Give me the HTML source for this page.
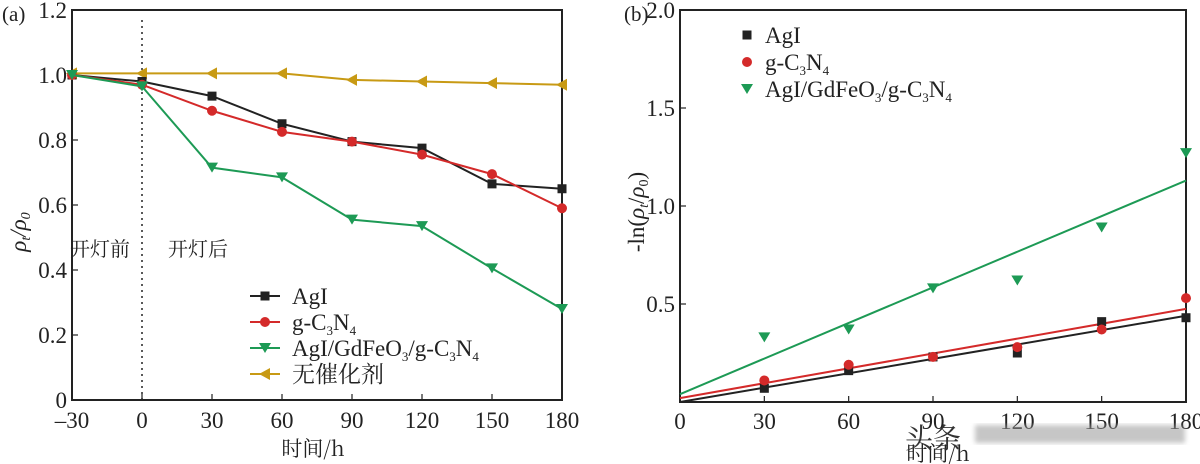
<!DOCTYPE html>
<html><head><meta charset="utf-8">
<style>
html,body{margin:0;padding:0;background:#fff;}
svg{display:block;font-family:"Liberation Serif","Noto Serif CJK SC",serif;}
</style></head>
<body>
<svg id="chart" width="1200" height="464" viewBox="0 0 1200 464" xmlns="http://www.w3.org/2000/svg">
<defs>
<filter id="blur"><feGaussianBlur stdDeviation="2.5"/></filter>
</defs>
<g id="pa"></g>
<g id="pb"></g>
</svg>
<script>
const timesA = [-30, 0, 30, 60, 90, 120, 150, 180];
const agiA = [1.0, 0.98, 0.935, 0.85, 0.795, 0.775, 0.665, 0.65];
const gcnA = [1.0, 0.97, 0.89, 0.825, 0.795, 0.755, 0.695, 0.59];
const compA = [1.0, 0.965, 0.715, 0.685, 0.555, 0.535, 0.405, 0.28];
const noneA = [1.005, 1.005, 1.005, 1.005, 0.985, 0.98, 0.975, 0.97];
const xTicksA = [-30, 0, 30, 60, 90, 120, 150, 180];
const yTicksA = [0, 0.2, 0.4, 0.6, 0.8, 1.0, 1.2];

const timesB = [30, 60, 90, 120, 150, 180];
const agiB = [0.07, 0.16, 0.23, 0.25, 0.41, 0.43];
const gcnB = [0.11, 0.19, 0.23, 0.28, 0.37, 0.53];
const compB = [0.33, 0.37, 0.58, 0.62, 0.89, 1.27];
const fitAgi = [0.0, 0.44];
const fitGcn = [0.02, 0.475];
const fitComp = [0.04, 1.13];
const xTicksB = [0, 30, 60, 90, 120, 150, 180];
const yTicksB = [0.5, 1.0, 1.5, 2.0];

const NS = "http://www.w3.org/2000/svg";
function mk(parent, tag, attrs, txt){
  const e = document.createElementNS(NS, tag);
  for (const k in attrs) e.setAttribute(k, attrs[k]);
  if (txt !== undefined) e.textContent = txt;
  parent.appendChild(e);
  return e;
}
const BLACK="#222", RED="#d42a2a", GREEN="#1d9a55", GOLD="#c89a14";
const TF = 23;

function marker(g, type, x, y, color){
  let m;
  if (type === 'sq') m = mk(g, 'rect', {x:x-4.5, y:y-4.5, width:9, height:9, fill:color});
  else if (type === 'ci') m = mk(g, 'circle', {cx:x, cy:y, r:5, fill:color});
  else if (type === 'dn') m = mk(g, 'polygon', {points:`${x-6},${y-5} ${x+6},${y-5} ${x},${y+5}`, fill:color});
  else m = mk(g, 'polygon', {points:`${x-6},${y} ${x+5},${y-6} ${x+5},${y+6}`, fill:color});
  
  
  return m;
}

// ---------- Panel A ----------
const pa = document.getElementById('pa');
const xA = v => 72 + (v + 30) / 210 * 490;
const yA = v => 400 - v / 1.2 * 390;
let fr = mk(pa, 'rect', {x:72, y:10, width:490, height:390, fill:'none', stroke:'#222', 'stroke-width':2});


xTicksA.forEach(t => {
  mk(pa, 'line', {x1:xA(t), x2:xA(t), y1:400, y2:394, stroke:'#222', 'stroke-width':1.2});
  const l = mk(pa, 'text', {x:xA(t), y:428, 'font-size':TF, 'text-anchor':'middle', fill:'#222'}, t < 0 ? '\u2013' + (-t) : t);
  
  
});
yTicksA.forEach(t => {
  mk(pa, 'line', {x1:72, x2:78, y1:yA(t), y2:yA(t), stroke:'#222', 'stroke-width':1.2});
  const l = mk(pa, 'text', {x:67, y:yA(t)+8, 'font-size':TF, 'text-anchor':'end', fill:'#222'}, t === 0 ? '0' : t.toFixed(1));
  
  
});
let dl = mk(pa, 'line', {x1:xA(0), x2:xA(0), y1:20, y2:400, stroke:'#222', 'stroke-width':1.5, 'stroke-dasharray':'2,4'});


let t1 = mk(pa, 'text', {x:70, y:256, 'font-size':20, fill:'#222', 'font-family':'"Noto Serif CJK SC","Noto Sans CJK SC",serif'}, '开灯前');
 
let t2 = mk(pa, 'text', {x:168, y:256, 'font-size':20, fill:'#222', 'font-family':'"Noto Serif CJK SC","Noto Sans CJK SC",serif'}, '开灯后');
 

const seriesA = [[noneA, GOLD, 'lt'], [agiA, BLACK, 'sq'], [gcnA, RED, 'ci'], [compA, GREEN, 'dn']];
seriesA.forEach(([vals, c, m]) => {
  const g = mk(pa, 'g', {});
  
  
  const pts = vals.map((v, i) => xA(timesA[i]) + ',' + yA(v)).join(' ');
  mk(g, 'polyline', {points:pts, fill:'none', stroke:c, 'stroke-width':2});
  vals.forEach((v, i) => marker(g, m, xA(timesA[i]), yA(v), c));
});
let yl = mk(pa, 'text', {x:0, y:0, 'font-size':23, 'font-style':'italic', fill:'#222', 'text-anchor':'middle', transform:'translate(26,232) rotate(-90)'});
 
yl.innerHTML = 'ρ<tspan font-size="14" dy="4">t</tspan><tspan dy="-4">/ρ</tspan><tspan font-size="14" dy="4">0</tspan>';
let xl = mk(pa, 'text', {x:313, y:456, 'font-size':21, fill:'#222', 'text-anchor':'middle', 'font-family':'"Noto Serif CJK SC","Noto Sans CJK SC",serif'}, '时间/h');
 
let pl = mk(pa, 'text', {x:2, y:21, 'font-size':21, fill:'#222'}, '(a)');
 

const legA = [['AgI', BLACK, 'sq'], ['g-C<tspan font-size="13" dy="5">3</tspan><tspan dy="-5">N</tspan><tspan font-size="13" dy="5">4</tspan>', RED, 'ci'], ['AgI/GdFeO<tspan font-size="13" dy="5">3</tspan><tspan dy="-5">/g-C</tspan><tspan font-size="13" dy="5">3</tspan><tspan dy="-5">N</tspan><tspan font-size="13" dy="5">4</tspan>', GREEN, 'dn'], ['无催化剂', GOLD, 'lt']];
legA.forEach(([lab, c, m], i) => {
  const y = 296 + i * 26;
  const g = mk(pa, 'g', {});
  
  
  mk(g, 'line', {x1:250, x2:280, y1:y, y2:y, stroke:c, 'stroke-width':2});
  marker(g, m, 265, y, c);
  const t = mk(g, 'text', {x:292, y:y+8, 'font-size':23, fill:'#222', 'font-family':'"Liberation Serif","Noto Serif CJK SC",serif'});
  t.innerHTML = lab;
});

// ---------- Panel B ----------
const pb = document.getElementById('pb');
const xB = v => 680 + v / 180 * 506;
const yB = v => 402 - v / 2.0 * 392;
let frb = mk(pb, 'rect', {x:680, y:10, width:506, height:392, fill:'none', stroke:'#222', 'stroke-width':2});


xTicksB.forEach(t => {
  mk(pb, 'line', {x1:xB(t), x2:xB(t), y1:402, y2:396, stroke:'#222', 'stroke-width':1.2});
  const l = mk(pb, 'text', {x:xB(t), y:429, 'font-size':TF, 'text-anchor':'middle', fill:'#222'}, t);
  
  
});
yTicksB.forEach(t => {
  mk(pb, 'line', {x1:680, x2:686, y1:yB(t), y2:yB(t), stroke:'#222', 'stroke-width':1.2});
  const l = mk(pb, 'text', {x:675, y:yB(t)+8, 'font-size':TF, 'text-anchor':'end', fill:'#222'}, t.toFixed(1));
  
  
});
const fits = [[fitComp, GREEN], [fitGcn, RED], [fitAgi, BLACK]];
fits.forEach(([f, c]) => {
  const l = mk(pb, 'line', {x1:xB(0), y1:yB(f[0]), x2:xB(180), y2:yB(f[1]), stroke:c, 'stroke-width':2});
  
  
});
const seriesB = [[agiB, BLACK, 'sq'], [gcnB, RED, 'ci'], [compB, GREEN, 'dn']];
seriesB.forEach(([vals, c, m]) => {
  const g = mk(pb, 'g', {});
  
  
  vals.forEach((v, i) => marker(g, m, xB(timesB[i]), yB(v), c));
});
let ylb = mk(pb, 'text', {x:0, y:0, 'font-size':23, fill:'#222', 'text-anchor':'middle', transform:'translate(644,212) rotate(-90)'});
 
ylb.innerHTML = '-ln(<tspan font-style="italic">ρ</tspan><tspan font-size="14" dy="4" font-style="italic">t</tspan><tspan dy="-4">/</tspan><tspan font-style="italic">ρ</tspan><tspan font-size="14" dy="4">0</tspan><tspan dy="-4">)</tspan>';
let plb = mk(pb, 'text', {x:624, y:21, 'font-size':21, fill:'#222'}, '(b)');
 
const legB = [['AgI', BLACK, 'sq'], ['g-C<tspan font-size="13" dy="5">3</tspan><tspan dy="-5">N</tspan><tspan font-size="13" dy="5">4</tspan>', RED, 'ci'], ['AgI/GdFeO<tspan font-size="13" dy="5">3</tspan><tspan dy="-5">/g-C</tspan><tspan font-size="13" dy="5">3</tspan><tspan dy="-5">N</tspan><tspan font-size="13" dy="5">4</tspan>', GREEN, 'dn']];
legB.forEach(([lab, c, m], i) => {
  const y = 35 + i * 27;
  const g = mk(pb, 'g', {});
  
  
  marker(g, m, 747, y, c);
  const t = mk(g, 'text', {x:765, y:y+8, 'font-size':23, fill:'#222'});
  t.innerHTML = lab;
});
let xlb = mk(pb, 'text', {x:938, y:461, 'font-size':21, fill:'#222', 'text-anchor':'middle', 'font-family':'"Noto Serif CJK SC","Noto Sans CJK SC",serif'}, '时间/h');
 
// watermark
const wm = mk(pb, 'g', {});


mk(wm, 'rect', {x:975, y:425, width:210, height:18, fill:'#999', opacity:0.55, filter:'url(#blur)'});
mk(wm, 'text', {x:905, y:448, 'font-size':28, fill:'#333', 'font-family':'"Noto Serif CJK SC","Noto Sans CJK SC",serif'}, '头条');
</script>
</body></html>
